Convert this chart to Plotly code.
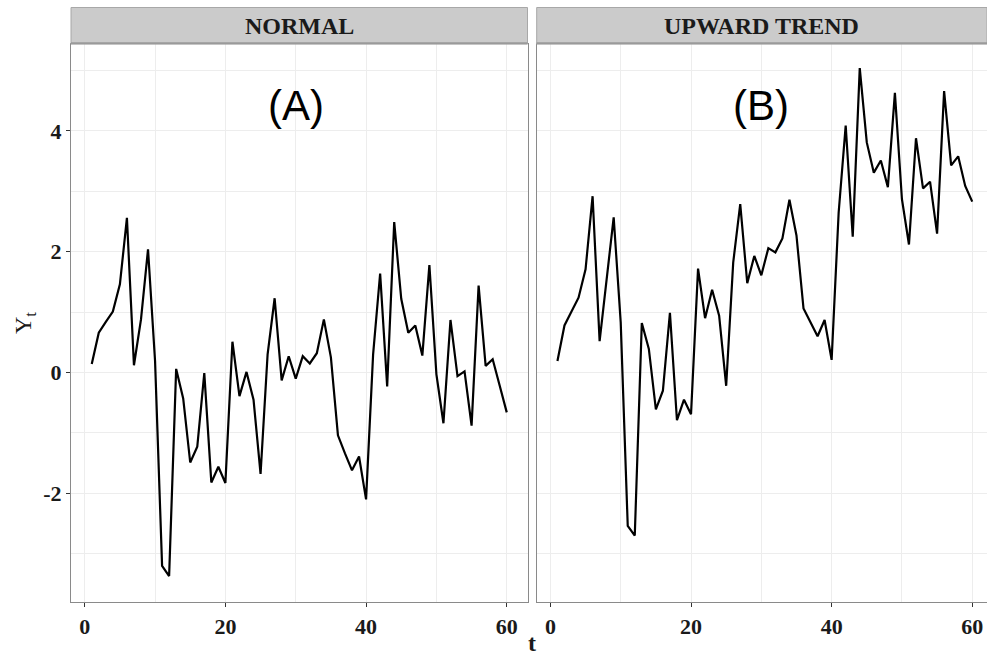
import plotly.graph_objects as go

t = list(range(1, 61))

normal = [0.14, 0.66, 0.84, 1.01, 1.46, 2.56, 0.12, 0.88, 2.04, 0.19,
          -3.20, -3.37, 0.06, -0.43, -1.49, -1.23, -0.01, -1.82, -1.56, -1.83,
          0.51, -0.39, 0.01, -0.45, -1.68, 0.30, 1.23, -0.13, 0.27, -0.10,
          0.27, 0.15, 0.32, 0.88, 0.25, -1.04, -1.34, -1.62, -1.39, -2.10,
          0.30, 1.64, -0.23, 2.49, 1.22, 0.66, 0.78, 0.28, 1.78, -0.03,
          -0.84, 0.87, -0.06, 0.02, -0.88, 1.44, 0.11, 0.22, -0.22, -0.66]

upward = [0.19, 0.78, 1.01, 1.24, 1.71, 2.92, 0.52, 1.55, 2.57, 0.83,
          -2.54, -2.70, 0.82, 0.39, -0.61, -0.30, 0.99, -0.79, -0.45, -0.69,
          1.72, 0.90, 1.37, 0.94, -0.22, 1.82, 2.79, 1.48, 1.93, 1.61,
          2.06, 1.99, 2.22, 2.86, 2.27, 1.06, 0.83, 0.60, 0.87, 0.21,
          2.65, 4.09, 2.25, 5.04, 3.81, 3.31, 3.51, 3.07, 4.63, 2.87,
          2.12, 3.88, 3.05, 3.16, 2.30, 4.66, 3.43, 3.58, 3.09, 2.83]

panel_titles = ["NORMAL", "UPWARD TREND"]
panel_labels = ["(A)", "(B)"]
x_ticks = [0, 20, 40, 60]
y_ticks = [-2, 0, 2, 4]
y_ticktext = ["-2", "0", "2", "4"]

W, H = 987, 658
L, R, T, B = 71, 0, 44, 56
pw = W - L - R
ph = H - T - B

def px_x(x):
    return (x - L) / pw

def px_y(y):
    return (H - B - y) / ph

dom1 = [0, px_x(527.5)]
dom2 = [px_x(536.7), 1]

fig = go.Figure()
fig.add_trace(go.Scatter(x=t, y=normal, mode="lines", line=dict(color="black", width=2.2),
                         xaxis="x", yaxis="y", showlegend=False))
fig.add_trace(go.Scatter(x=t, y=upward, mode="lines", line=dict(color="black", width=2.2),
                         xaxis="x2", yaxis="y2", showlegend=False))

tickfont = dict(family="Liberation Serif", size=22, color="#1a1a1a", weight="bold")
grid = "#EDEDED"
border = "#8a8a8a"

common_x = dict(tickvals=x_ticks, showgrid=True, gridcolor=grid, gridwidth=1,
                minor=dict(dtick=10, tick0=0, showgrid=True, gridcolor=grid, gridwidth=0.8, ticks=""),
                ticks="outside", ticklen=4, tickcolor="#333333", tickwidth=1,
                tickfont=tickfont, zeroline=False, showline=True, linecolor=border, linewidth=1.2)

fig.update_layout(
    width=W, height=H,
    margin=dict(l=L, r=R, t=T, b=B),
    paper_bgcolor="white", plot_bgcolor="white",
    xaxis=dict(domain=dom1, range=[-1.95, 62.95], anchor="y", mirror=True, **common_x),
    xaxis2=dict(domain=dom2, range=[-1.95, 62.1], anchor="y2", mirror=True, **common_x),
    yaxis=dict(domain=[0, 1], range=[-3.80, 5.44], tickvals=y_ticks, ticktext=y_ticktext,
               showgrid=True, gridcolor=grid, gridwidth=1,
               minor=dict(dtick=1, tick0=0, showgrid=True, gridcolor=grid, gridwidth=0.8, ticks=""),
               ticks="outside", ticklen=4, tickcolor="#333333", tickwidth=1,
               tickfont=tickfont, zeroline=False, showline=True, linecolor=border, linewidth=1.2,
               mirror=True, anchor="x"),
    yaxis2=dict(domain=[0, 1], range=[-3.80, 5.44], tickvals=y_ticks, showticklabels=False,
                showgrid=True, gridcolor=grid, gridwidth=1,
                minor=dict(dtick=1, tick0=0, showgrid=True, gridcolor=grid, gridwidth=0.8, ticks=""),
                ticks="", zeroline=False, showline=True, linecolor=border, linewidth=1.2,
                anchor="x2"),
)

strip_top = px_y(7.5)
shapes = []
annotations = []
for dom, title in zip([dom1, dom2], panel_titles):
    shapes.append(dict(type="rect", xref="paper", yref="paper", x0=dom[0], x1=dom[1],
                       y0=1.0, y1=strip_top, fillcolor="#CBCBCB",
                       line=dict(color="#A8A8A8", width=1), layer="above"))
    shapes.append(dict(type="line", xref="paper", yref="paper", x0=dom[0], x1=dom[1],
                       y0=1.0015, y1=1.0015, line=dict(color="#9a9a9a", width=2), layer="above"))
    annotations.append(dict(text="<b>" + title + "</b>", xref="paper", yref="paper",
                            x=(dom[0] + dom[1]) / 2, y=px_y(26),
                            xanchor="center", yanchor="middle", showarrow=False,
                            font=dict(family="Liberation Serif", size=24, color="#1a1a1a")))

for xr, yr, lab in zip(["x", "x2"], ["y", "y2"], panel_labels):
    annotations.append(dict(text=lab, xref=xr, yref=yr, x=30, y=4.42,
                            xanchor="center", yanchor="middle", showarrow=False,
                            font=dict(family="Liberation Sans", size=42, color="black")))

annotations.append(dict(text="Y<sub>t</sub>", xref="paper", yref="paper",
                        x=px_x(25), y=px_y(323), textangle=-90, xanchor="center", yanchor="middle",
                        showarrow=False, font=dict(family="Liberation Serif", size=24, color="#1a1a1a")))
annotations.append(dict(text="<b>t</b>", xref="paper", yref="paper",
                        x=px_x(532), y=px_y(643), xanchor="center", yanchor="middle",
                        showarrow=False, font=dict(family="Liberation Serif", size=24, color="#1a1a1a")))

fig.update_layout(shapes=shapes, annotations=annotations)
fig.write_html("out.html", config={"displayModeBar": False},
               post_script="document.body.style.margin='0';document.body.style.overflow='hidden';")
